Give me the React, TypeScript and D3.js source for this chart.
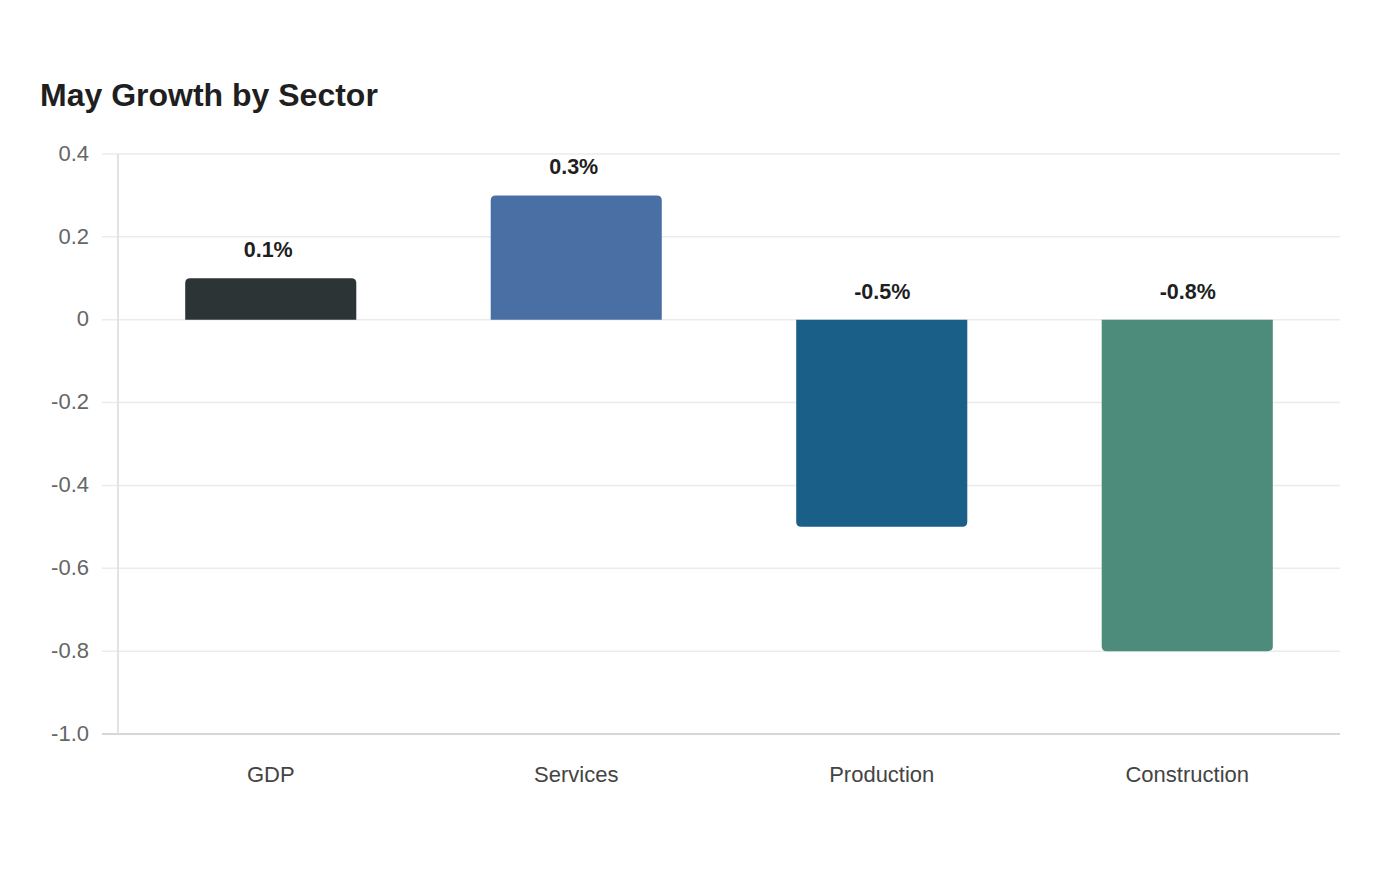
import React, { useEffect, useRef } from 'react';
import * as d3 from 'd3';

// chart data
const categories = ['GDP', 'Services', 'Production', 'Construction'];
const growth = [0.1, 0.3, -0.5, -0.8];
const barColors = ['#2d3436', '#4a6fa5', '#1a5f87', '#4d8b7a'];
const yTicks = [0.4, 0.2, 0, -0.2, -0.4, -0.6, -0.8, -1.0];
const titleText = 'May Growth by Sector';

const W = 1400;
const H = 880;

// rect path with rounded corners only on the far end of the bar
const barPath = (x: number, y0: number, y1: number, w: number, r: number) => {
  const up = y1 < y0;
  const h = Math.abs(y1 - y0);
  const rr = Math.min(r, h / 2, w / 2);
  if (up) {
    return `M${x},${y0}V${y1 + rr}Q${x},${y1} ${x + rr},${y1}H${x + w - rr}Q${x + w},${y1} ${x + w},${y1 + rr}V${y0}Z`;
  }
  return `M${x},${y0}V${y1 - rr}Q${x},${y1} ${x + rr},${y1}H${x + w - rr}Q${x + w},${y1} ${x + w},${y1 - rr}V${y0}Z`;
};

const App = () => {
  const ref = useRef<SVGSVGElement | null>(null);

  useEffect(() => {
    if (!ref.current) return;
    const svg = d3.select(ref.current);
    svg.selectAll('*').remove();

    const margin = { top: 154, right: 60, bottom: 146, left: 118 };
    const width = W - margin.left - margin.right;
    const height = H - margin.top - margin.bottom;
    const font = 'Liberation Sans, Arial, sans-serif';

    svg.append('rect').attr('width', W).attr('height', H).attr('fill', '#ffffff');

    svg.append('text')
      .attr('x', 40)
      .attr('y', 106)
      .attr('font-family', font)
      .attr('font-size', 32)
      .attr('font-weight', 700)
      .attr('fill', '#1f1f1f')
      .text(titleText);

    const g = svg.append('g').attr('transform', `translate(${margin.left},${margin.top})`);

    const x = d3.scaleBand().domain(categories).range([0, width]).paddingInner(0.44).paddingOuter(0.22);
    const y = d3.scaleLinear().domain([-1.0, 0.4]).range([height, 0]);

    // grid lines
    g.selectAll('.grid')
      .data(yTicks)
      .enter()
      .append('line')
      .attr('x1', -16)
      .attr('x2', width)
      .attr('y1', d => y(d))
      .attr('y2', d => y(d))
      .attr('stroke', d => (d === -1.0 ? '#d6d6d6' : '#ebebeb'))
      .attr('stroke-width', d => (d === -1.0 ? 2 : 1.5));

    // y axis line
    g.append('line')
      .attr('x1', 0).attr('x2', 0)
      .attr('y1', 0).attr('y2', height)
      .attr('stroke', '#e3e3e3')
      .attr('stroke-width', 2);

    g.append('line')
      .attr('x1', 0).attr('x2', width)
      .attr('y1', height).attr('y2', height)
      .attr('stroke', '#d6d6d6')
      .attr('stroke-width', 2);

    // y tick labels (plain hyphen minus)
    g.selectAll('.ytick')
      .data(yTicks)
      .enter()
      .append('text')
      .attr('x', -29)
      .attr('y', d => y(d) - 1)
      .attr('dy', '0.35em')
      .attr('text-anchor', 'end')
      .attr('font-family', font)
      .attr('font-size', 22)
      .attr('fill', '#666666')
      .text(d => (d === 0 ? '0' : d.toFixed(1)));

    // bars
    const bw = x.bandwidth();
    g.selectAll('.bar')
      .data(growth)
      .enter()
      .append('path')
      .attr('d', (d, i) => barPath(x(categories[i])!, y(0), y(d), bw, 5))
      .attr('fill', (d, i) => barColors[i]);

    // value labels
    g.selectAll('.val')
      .data(growth)
      .enter()
      .append('text')
      .attr('x', (d, i) => x(categories[i])! + bw / 2 + (d >= 0 ? -2.5 : 0.5))
      .attr('y', d => (d >= 0 ? y(d) : y(0)) - 21)
      .attr('text-anchor', 'middle')
      .attr('font-family', font)
      .attr('font-size', 21.5)
      .attr('font-weight', 700)
      .attr('fill', '#1f1f1f')
      .text(d => `${d.toFixed(1)}%`);

    // category labels
    g.selectAll('.cat')
      .data(categories)
      .enter()
      .append('text')
      .attr('x', d => x(d)! + bw / 2)
      .attr('y', height + 48)
      .attr('text-anchor', 'middle')
      .attr('font-family', font)
      .attr('font-size', 22)
      .attr('fill', '#444444')
      .text(d => d);
  }, []);

  return (
    <div style={{ position: 'absolute', left: 0, top: 0 }}>
      <svg ref={ref} width={W} height={H} style={{ display: 'block' }} />
    </div>
  );
};

export default App;
